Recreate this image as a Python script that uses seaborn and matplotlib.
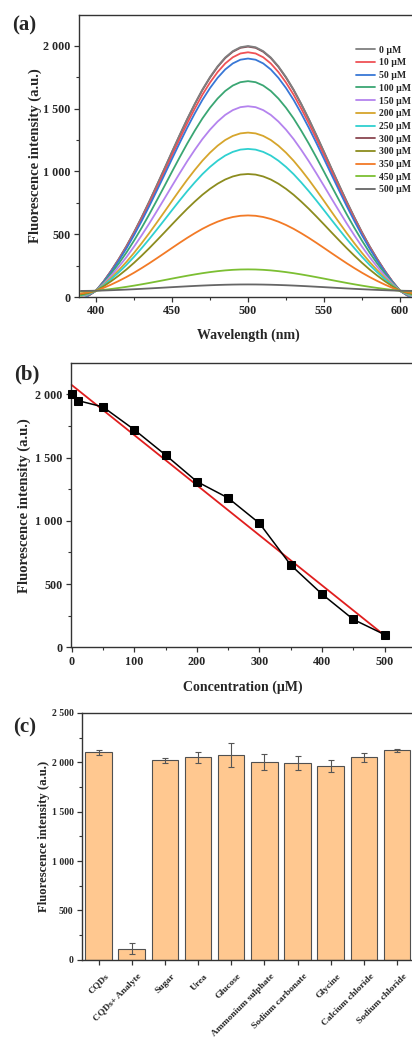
import numpy as np
import pandas as pd
import seaborn as sns
import matplotlib
matplotlib.use('Agg')
from matplotlib import pyplot as plt
from matplotlib.ticker import MultipleLocator, FuncFormatter
from matplotlib.transforms import ScaledTranslation

sns.set_theme(style='ticks')
plt.rcParams['font.family'] = ['Liberation Serif', 'DejaVu Serif']
plt.rcParams['font.weight'] = 'bold'
plt.rcParams['axes.labelweight'] = 'bold'

# (a) emission spectra
wavelength = np.arange(390, 615, 5)
# normalised band shape (390 ... 610 nm, 5 nm steps)
band_left = [-0.035, -0.02, 0.0, 0.038, 0.082, 0.130, 0.182, 0.239, 0.300, 0.364, 0.431,
             0.499, 0.568, 0.636, 0.702, 0.764, 0.822, 0.873, 0.917, 0.953, 0.979, 0.995]
band = band_left + [1.0] + band_left[::-1]
base_level = 50
spec_labels = ['0 µM', '10 µM', '50 µM', '100 µM', '150 µM', '200 µM', '250 µM',
               '300 µM', '300 µM', '350 µM', '450 µM', '500 µM']
spec_peaks = [2000, 1950, 1900, 1720, 1520, 1310, 1180, 1995, 980, 650, 220, 100]
spec_colors = ['#7f7f7f', '#ef5256', '#3877d6', '#3aa673', '#b483ee', '#d6a52c',
               '#2fd0d0', '#8a4650', '#8c8c1e', '#f27a26', '#7cbf33', '#666666']

# (b) quenching vs concentration
conc = [0, 10, 50, 100, 150, 200, 250, 300, 350, 400, 450, 500]
intensity = [2000, 1950, 1900, 1720, 1520, 1310, 1180, 980, 650, 420, 220, 100]

# (c) selectivity
analytes = ['CQDs', 'CQDs+ Analyte', 'Sugar', 'Urea', 'Glucose', 'Ammonium sulphate',
            'Sodium carbonate', 'Glycine', 'Calcium chloride', 'Sodium chloride']
sel_values = [2100, 110, 2020, 2050, 2070, 2000, 1990, 1960, 2050, 2120]
sel_errors = [22, 55, 22, 52, 122, 80, 72, 62, 45, 18]

W, H = 412, 1038
fig = plt.figure(figsize=(W / 100, H / 100), dpi=100)


def box(l, t, r, b):
    return [l / W, 1 - b / H, (r - l) / W, (b - t) / H]


thous = FuncFormatter(lambda v, p: f'{int(v):,}'.replace(',', ' '))
axcol = '#333333'


def style(ax, fs):
    for s in ax.spines.values():
        s.set_color(axcol)
        s.set_linewidth(1.0)
    ax.tick_params(which='major', direction='out', length=3.5, width=0.9, color=axcol,
                   labelsize=fs, pad=2.5, top=False, right=False)
    ax.tick_params(which='minor', direction='out', length=2, width=0.8, color=axcol,
                   top=False, right=False)
    for t in ax.get_xticklabels() + ax.get_yticklabels():
        t.set_fontweight('bold')
    ax.grid(False)


# ---- (a)
ax_a = fig.add_axes(box(79, 15, 417, 297))
order = [7, 0, 1, 2, 3, 4, 5, 6, 8, 9, 10, 11]
for i in order:
    y = [base_level + (spec_peaks[i] - base_level) * b for b in band]
    sns.lineplot(x=wavelength, y=y, color=spec_colors[i], linewidth=1.3, ax=ax_a,
                 label=spec_labels[i], zorder=2 + (i != 7))
ax_a.set_xlim(388.8, 611.2)
ax_a.set_ylim(0, 2247)
ax_a.xaxis.set_major_locator(MultipleLocator(50))
ax_a.xaxis.set_minor_locator(MultipleLocator(25))
ax_a.yaxis.set_major_locator(MultipleLocator(500))
ax_a.yaxis.set_minor_locator(MultipleLocator(250))
ax_a.yaxis.set_major_formatter(thous)
ax_a.set_xlabel('Wavelength (nm)', fontsize=10, fontweight='bold')
ax_a.set_ylabel('Fluorescence intensity (a.u.)', fontsize=10.5, fontweight='bold')
ax_a.xaxis.set_label_coords((248 - 79) / 338, -(329 - 297) / 282)
ax_a.yaxis.set_label_coords((42 - 79) / 338, 0.5)
style(ax_a, 8.7)
h, l = ax_a.get_legend_handles_labels()
hh = [h[order.index(k)] for k in range(len(spec_labels))]
ax_a.legend(hh, spec_labels, loc='upper left', bbox_to_anchor=(347 / W, 1 - 37 / H),
            bbox_transform=fig.transFigure, frameon=False,
            handlelength=2.0, handletextpad=0.35, labelspacing=0.38,
            prop={'weight': 'bold', 'size': 7})

# ---- (b)
ax_b = fig.add_axes(box(71, 363, 416, 647.3))
sns.lineplot(x=conc, y=intensity, color='black', marker='s', markersize=5.5,
             markeredgecolor='black', linewidth=1.1, ax=ax_b, zorder=3)
sns.regplot(x=conc, y=intensity, scatter=False, ci=None, truncate=True, ax=ax_b,
            line_kws={'color': '#e01e1e', 'linewidth': 1.3, 'zorder': 2})
for ln in ax_b.lines:
    ln.set_clip_on(False)
ax_b.set_xlim(-1, 550)
ax_b.set_ylim(0, 2247)
ax_b.xaxis.set_major_locator(MultipleLocator(100))
ax_b.xaxis.set_minor_locator(MultipleLocator(50))
ax_b.yaxis.set_major_locator(MultipleLocator(500))
ax_b.yaxis.set_minor_locator(MultipleLocator(250))
ax_b.yaxis.set_major_formatter(thous)
ax_b.set_xlabel('Concentration (µM)', fontsize=10, fontweight='bold')
ax_b.set_ylabel('Fluorescence intensity (a.u.)', fontsize=10.5, fontweight='bold')
ax_b.xaxis.set_label_coords((243 - 71) / 345, -(681 - 647.3) / 284.3)
ax_b.yaxis.set_label_coords((31 - 71) / 345, 0.5)
style(ax_b, 8.7)

# ---- (c)
ax_c = fig.add_axes(box(82, 713, 413.6, 959.7))
sns.barplot(x=analytes, y=sel_values, color='#ffc890', saturation=1, width=0.8,
            edgecolor='#505050', linewidth=0.8, errorbar=None, ax=ax_c)
ax_c.errorbar(range(len(analytes)), sel_values, yerr=sel_errors, fmt='none',
              ecolor='#555555', elinewidth=0.8, capsize=2, capthick=0.8)
ax_c.set_xlim(-0.5, 9.5)
ax_c.set_ylim(0, 2500)
ax_c.yaxis.set_major_locator(MultipleLocator(500))
ax_c.yaxis.set_minor_locator(MultipleLocator(250))
ax_c.yaxis.set_major_formatter(thous)
ax_c.set_ylabel('Fluorescence intensity (a.u.)', fontsize=9.2, fontweight='bold')
ax_c.yaxis.set_label_coords((49.5 - 82) / 331.6, 0.5)
ax_c.set_xlabel('')
style(ax_c, 7)
shift = ScaledTranslation(6 / 100, -4 / 100, fig.dpi_scale_trans)
for t in ax_c.get_xticklabels():
    t.set_rotation(45)
    t.set_ha('right')
    t.set_rotation_mode('anchor')
    t.set_fontsize(6.8)
    t.set_fontweight('bold')
    t.set_transform(t.get_transform() + shift)

for txt, x, y in [('(a)', 24, 25), ('(b)', 27, 374), ('(c)', 25, 727)]:
    fig.text(x / W, 1 - y / H, txt, fontsize=15, fontweight='bold',
             ha='center', va='center')

fig.savefig('out.png', dpi=100)
